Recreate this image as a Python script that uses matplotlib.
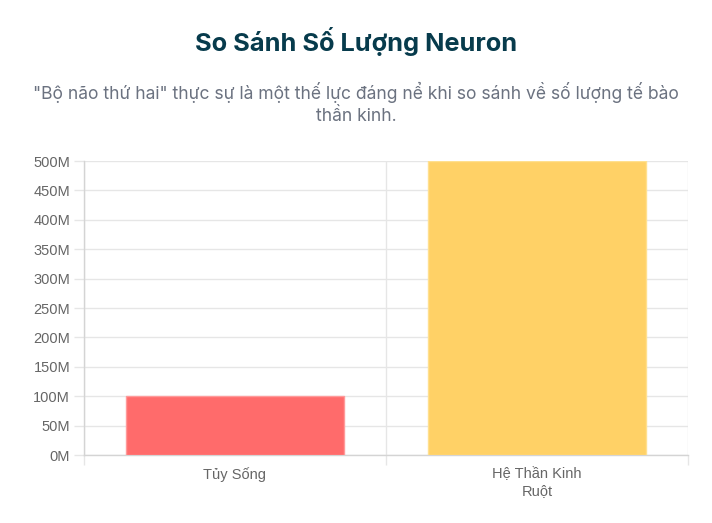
import matplotlib.pyplot as plt
from matplotlib.ticker import FuncFormatter, MultipleLocator

# Data (neurons, in millions)
categories = ["Tủy Sống", "Hệ Thần Kinh\nRuột"]
neurons_m = [100, 500]
bar_colors = ["#FF6B6B", "#FFD166"]
edge_colors = ["#FF9A9A", "#FFE08F"]

title = "So Sánh Số Lượng Neuron"
subtitle = "\"Bộ não thứ hai\" thực sự là một thế lực đáng nể khi so sánh về số lượng tế bào\nthần kinh."

fig = plt.figure(figsize=(7.12, 5.23), dpi=100)
ax = fig.add_axes([0.118, 0.130, 0.848, 0.562])

x = list(range(len(categories)))
ax.bar(x, neurons_m, width=0.72, color=bar_colors, edgecolor=edge_colors, linewidth=1.0, zorder=3)

ax.set_xlim(-0.5, len(categories) - 0.5)
ax.set_ylim(0, 500)
ax.yaxis.set_major_locator(MultipleLocator(50))
ax.yaxis.set_major_formatter(FuncFormatter(lambda v, p: f"{int(v)}M"))

ax.set_xticks(x)
ax.set_xticklabels(categories)
ax.set_xticks([i - 0.5 for i in range(len(categories) + 1)], minor=True)

grid_c = "#e6e6e6"
ax.grid(axis="y", which="major", color=grid_c, linewidth=1, zorder=0)
ax.grid(axis="x", which="minor", color=grid_c, linewidth=1, zorder=0)
ax.tick_params(axis="x", which="major", length=0, pad=9, labelsize=10.5, labelcolor="#666666")
ax.tick_params(axis="x", which="minor", length=7, color=grid_c, width=1)
ax.tick_params(axis="y", length=7, color=grid_c, width=1, pad=3, labelsize=10.5, labelcolor="#666666")
for lab in ax.get_xticklabels() + ax.get_yticklabels():
    lab.set_family(["Liberation Sans", "DejaVu Sans"])
    lab.set_linespacing(1.25)

for s in ["top", "right"]:
    ax.spines[s].set_visible(False)
for s in ["left", "bottom"]:
    ax.spines[s].set_color("#d4d4d4")
    ax.spines[s].set_linewidth(1)

fig.text(0.5, 0.920, title, ha="center", va="center", fontsize=18.3, fontweight="bold",
         color="#073B4C", family=["Inter", "DejaVu Sans"])
fig.text(0.5, 0.802, subtitle, ha="center", va="center", fontsize=12.6, color="#6B7280",
         family=["Inter", "DejaVu Sans"], linespacing=1.4)

plt.savefig("out.png", dpi=100)
